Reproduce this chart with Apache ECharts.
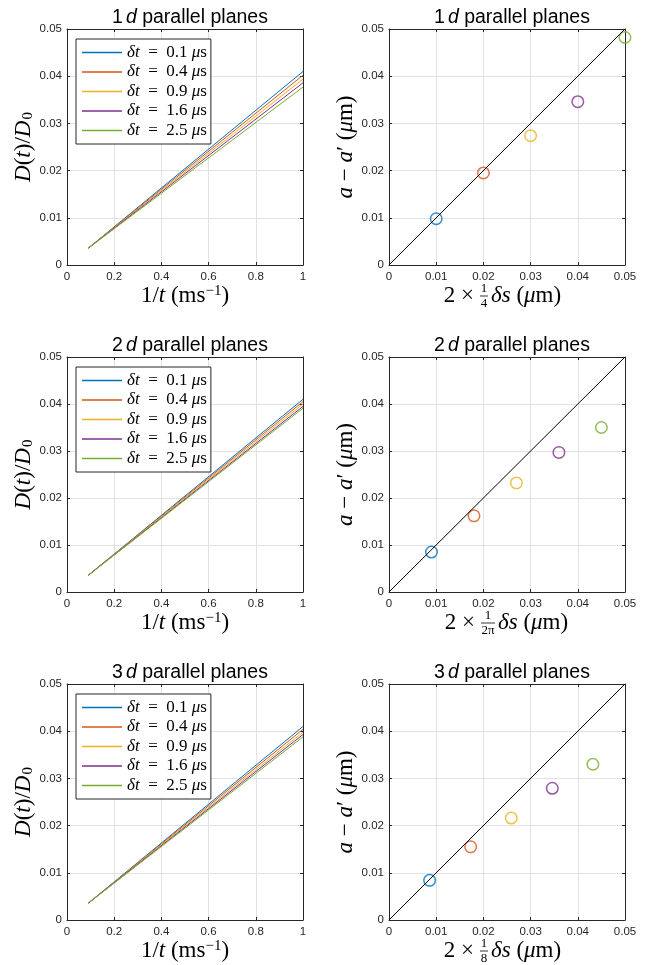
<!DOCTYPE html>
<html><head><meta charset="utf-8">
<script src="https://cdn.jsdelivr.net/npm/echarts@6/dist/echarts.min.js"></script>
<style>html,body{margin:0;padding:0;background:#fff}#c{width:660px;height:965px}</style>
</head><body><div id="c"></div>
<script>
// ---------- data ----------
const dtLabels = ['0.1', '0.4', '0.9', '1.6', '2.5'];
const seriesNames = dtLabels.map(v => 'δt = ' + v + ' μs');
const invT = [0.091, 1];                       // 1/t range of the left curves (ms^-1)
const dStart1d = [0.0036, 0.0036, 0.0036, 0.0036, 0.0036];
const dEnd1d   = [0.0410, 0.0402, 0.0394, 0.0386, 0.0377];
const dStart2d = [0.0036, 0.0036, 0.0036, 0.0036, 0.0036];
const dEnd2d   = [0.0410, 0.0405, 0.0400, 0.0395, 0.0391];
const dStart3d = [0.0036, 0.0036, 0.0036, 0.0036, 0.0036];
const dEnd3d   = [0.0410, 0.0404, 0.0398, 0.0393, 0.0388];
const sx1d = [0.0100, 0.0200, 0.0300, 0.0400, 0.0500];
const sy1d = [0.0098, 0.0195, 0.0274, 0.0346, 0.0482];
const sx2d = [0.0090, 0.0180, 0.0270, 0.0360, 0.0450];
const sy2d = [0.0085, 0.0162, 0.0232, 0.0297, 0.0350];
const sx3d = [0.0086, 0.0173, 0.0259, 0.0346, 0.0432];
const sy3d = [0.0084, 0.0155, 0.0216, 0.0279, 0.0330];
const diag = [0, 0.05];
const xTicksLeft = [0, 0.2, 0.4, 0.6, 0.8, 1];
const xTicksRight = [0, 0.01, 0.02, 0.03, 0.04, 0.05];
const yTicks = [0, 0.01, 0.02, 0.03, 0.04, 0.05];
const titles = ['1', '2', '3'];
const fracDen = ['4', '2π', '8'];

// ---------- style ----------
const colors = ['#0072BD', '#D95319', '#EDB120', '#7E2F8E', '#77AC30'];
const AX = '#262626';
const SANS = 'Liberation Sans';
const SERIF = 'Liberation Serif';
const grids = [
  {left: 67, top: 29, width: 236, height: 236},
  {left: 389, top: 29, width: 236, height: 236},
  {left: 67, top: 357, width: 236, height: 235},
  {left: 389, top: 357, width: 236, height: 235},
  {left: 67, top: 684, width: 236, height: 236},
  {left: 389, top: 684, width: 236, height: 236}
];

const xAxis = [], yAxis = [], series = [], title = [], legend = [], graphic = [];

function mkAxis(kind, gi, ticks, primary) {
  return {
    type: 'value', gridIndex: gi,
    min: ticks[0], max: ticks[ticks.length - 1],
    interval: ticks[1] - ticks[0],
    position: kind === 'x' ? (primary ? 'bottom' : 'top') : (primary ? 'left' : 'right'),
    axisLine: {show: true, onZero: false, lineStyle: {color: AX, width: 1}},
    axisTick: {show: true, inside: true, length: 3, lineStyle: {color: AX}},
    axisLabel: {show: primary, fontSize: 11.5, color: AX, fontFamily: SANS,
                margin: kind === 'x' ? 6 : 5, showMinLabel: true, showMaxLabel: true},
    splitLine: {show: primary, lineStyle: {color: '#e2e2e2', width: 1}}
  };
}

for (let gi = 0; gi < 6; gi++) {
  const left = gi % 2 === 0;
  xAxis.push(mkAxis('x', gi, left ? xTicksLeft : xTicksRight, true));
  yAxis.push(mkAxis('y', gi, yTicks, true));
}
for (let gi = 0; gi < 6; gi++) {
  const left = gi % 2 === 0;
  xAxis.push(mkAxis('x', gi, left ? xTicksLeft : xTicksRight, false));
  yAxis.push(mkAxis('y', gi, yTicks, false));
}

const FS = 23;
const richSerif = {
  u: {fontFamily: SERIF, fontSize: FS, color: '#000'},
  i: {fontFamily: SERIF, fontSize: FS, fontStyle: 'italic', color: '#000'},
  s: {fontFamily: SERIF, fontSize: 15, color: '#000', verticalAlign: 'bottom', padding: [8, 0, 0, 1]},
  p: {fontFamily: SERIF, fontSize: 15, color: '#000', verticalAlign: 'top', padding: [0, 0, 8, 0]}
};

// axis names
for (let r = 0; r < 3; r++) {
  const gl = 2 * r, gr = 2 * r + 1;
  Object.assign(yAxis[gl], {
    name: '{i|D}{u|(}{i|t}{u|)/}{i|D}{s|0}', nameLocation: 'middle', nameRotate: 90, nameGap: 26,
    nameTextStyle: {rich: richSerif}
  });
  Object.assign(xAxis[gl], {
    name: '{u|1/}{i|t}{u| (ms}{p|−1}{u|)}', nameLocation: 'middle', nameGap: 19,
    nameTextStyle: {rich: richSerif}
  });
  Object.assign(yAxis[gr], {
    name: '{i|a}{u| − }{i|a}{u|′ (}{i|μ}{u|m)}', nameLocation: 'middle', nameRotate: 90, nameGap: 31,
    nameTextStyle: {rich: richSerif}
  });
}

// titles
const titleTops = [3, 331, 658];
for (let r = 0; r < 3; r++) {
  for (let c = 0; c < 2; c++) {
    const g = grids[2 * r + c];
    title.push({
      text: '{n|' + titles[r] + '}{i|d}{n| parallel planes}',
      left: g.left + g.width / 2, top: titleTops[r], textAlign: 'center',
      textStyle: {fontWeight: 'normal', rich: {
        n: {fontFamily: SANS, fontSize: 19.5, fontWeight: 'normal', color: '#000'},
        i: {fontFamily: SANS, fontSize: 19.5, fontWeight: 'normal', color: '#000', fontStyle: 'italic', padding: [0, 0, 0, 3]}
      }}
    });
  }
}

// left line series + legends
const dStarts = [dStart1d, dStart2d, dStart3d];
const dEnds = [dEnd1d, dEnd2d, dEnd3d];
for (let r = 0; r < 3; r++) {
  const gi = 2 * r;
  for (let k = 0; k < 5; k++) {
    series.push({
      type: 'line', name: seriesNames[k], xAxisIndex: gi, yAxisIndex: gi,
      symbol: 'none', animation: false,
      lineStyle: {color: colors[k], width: 1}, itemStyle: {color: colors[k]},
      data: [[invT[0], dStarts[r][k]], [invT[1], dEnds[r][k]]]
    });
  }
  legend.push({
    data: seriesNames.map(n => ({name: n, icon: 'rect'})),
    orient: 'vertical', left: 76, top: grids[gi].top + 10,
    itemWidth: 40, itemHeight: 1.6, itemGap: 2.5, padding: [5, 4, 5, 6],
    borderColor: AX, borderWidth: 1, backgroundColor: '#fff',
    selectedMode: false,
    formatter: n => n.replace('δt', '{i|δt}').replace(' = ', '  =  ').replace('μ', '{i|μ}'),
    textStyle: {fontFamily: SERIF, fontSize: 17, lineHeight: 17, color: '#000',
      rich: {i: {fontFamily: SERIF, fontSize: 17, lineHeight: 17, fontStyle: 'italic', color: '#000'}}}
  });
}

// right scatter + diagonal
const SX = [sx1d, sx2d, sx3d], SY = [sy1d, sy2d, sy3d];
for (let r = 0; r < 3; r++) {
  const gi = 2 * r + 1;
  series.push({
    type: 'line', xAxisIndex: gi, yAxisIndex: gi, symbol: 'none', animation: false,
    lineStyle: {color: '#000', width: 1}, data: [[diag[0], diag[0]], [diag[1], diag[1]]]
  });
  for (let k = 0; k < 5; k++) {
    series.push({
      type: 'scatter', xAxisIndex: gi, yAxisIndex: gi, animation: false,
      symbol: 'circle', symbolSize: 11.5,
      itemStyle: {color: 'rgba(255,255,255,0)', borderColor: colors[k], borderWidth: 1.5},
      data: [[SX[r][k], SY[r][k]]]
    });
  }
}

// right x-axis names with stacked fractions
const fx = [484, 488, 484];
for (let r = 0; r < 3; r++) {
  const g = grids[2 * r + 1];
  const yb = g.top + g.height + 31;
  const f = fx[r];
  const half = fracDen[r].length > 1 ? 7 : 4;
  graphic.push(
    {type: 'text', style: {text: '2 ×', x: f - half - 6, y: yb, align: 'right', verticalAlign: 'middle',
      font: FS + 'px "' + SERIF + '"', fill: '#000'}},
    {type: 'text', style: {text: '1', x: f, y: yb - 7, align: 'center', verticalAlign: 'middle',
      font: '13px "' + SERIF + '"', fill: '#000'}},
    {type: 'line', shape: {x1: f - half, y1: yb, x2: f + half, y2: yb}, style: {stroke: '#000', lineWidth: 0.8}},
    {type: 'text', style: {text: fracDen[r], x: f, y: yb + 8, align: 'center', verticalAlign: 'middle',
      font: '13px "' + SERIF + '"', fill: '#000'}},
    {type: 'text', style: {text: '{i|δs} {u|(}{i|μ}{u|m)}', x: f + half + 3, y: yb, align: 'left', verticalAlign: 'middle',
      rich: richSerif, font: FS + 'px "' + SERIF + '"', fill: '#000'}}
  );
}

const chart = echarts.init(document.getElementById('c'), null, {renderer: 'canvas'});
chart.setOption({
  animation: false, backgroundColor: '#fff', color: colors,
  grid: grids, xAxis, yAxis, series, title, legend, graphic
});
</script></body></html>
